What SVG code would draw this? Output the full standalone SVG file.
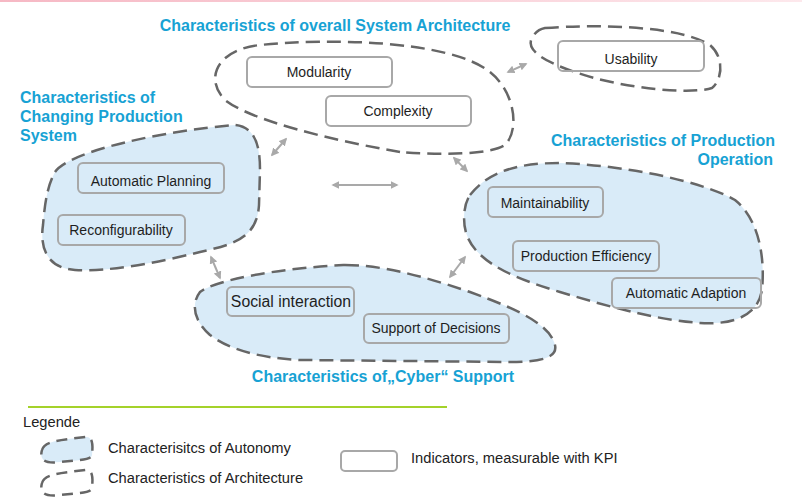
<svg xmlns="http://www.w3.org/2000/svg" width="802" height="502" viewBox="0 0 802 502">
<defs>
<linearGradient id="topg" x1="0" y1="0" x2="1" y2="0">
<stop offset="0" stop-color="#f6b8c4"/>
<stop offset="1" stop-color="#fde8ec"/>
</linearGradient>
<marker id="ah" viewBox="0 0 10 10" refX="8" refY="5" markerWidth="4" markerHeight="4" orient="auto-start-reverse" markerUnits="strokeWidth">
<path d="M0,0 L10,5 L0,10 Z" fill="#a9a9a9"/>
</marker>
<style>
.title{font-family:"Liberation Sans",Arial,sans-serif;font-weight:bold;font-size:16px;fill:#17a2d4}
.lbl{font-family:"Liberation Sans",Arial,sans-serif;font-size:14px;fill:#1e1e1e}
.lbl.big{font-size:15.8px}
.leg{font-family:"Liberation Sans",Arial,sans-serif;font-size:14.7px;fill:#222}
.box{fill:none;stroke:#a8a8a8;stroke-width:2}
.auto{fill:#d9ebf8;stroke:#666;stroke-width:2.5;stroke-dasharray:14 7}
.arch{fill:none;stroke:#666;stroke-width:2.5;stroke-dasharray:14 7}
.conn{stroke:#a9a9a9;stroke-width:2;fill:none;marker-start:url(#ah);marker-end:url(#ah)}
</style>
</defs>
<rect x="0" y="0" width="802" height="502" fill="#ffffff"/>
<rect x="0" y="0" width="802" height="2" fill="url(#topg)"/>

<g id="area-architecture">
<path class="arch" d="M400,152 C330,140 250,120 225,100 C205,80 215,50 260,45 C330,38 450,40 490,72 C515,92 520,130 505,145 C490,155 440,155 400,152 Z"/>
<text class="title" x="335" y="31" text-anchor="middle">Characteristics of overall System Architecture</text>
</g>
<g id="area-usability">
<path class="arch" d="M545,28 C600,24 680,26 710,45 C725,58 722,80 712,88 C690,95 620,88 575,72 C545,62 525,50 532,38 C535,32 540,29 545,28 Z"/>
</g>
<g id="area-changing">
<path class="auto" d="M55,172 C70,150 170,130 235,125 C255,127 260,145 260,170 L259,205 C257,240 230,245 200,252 C160,262 110,272 75,270 C45,268 40,245 43,225 C45,200 48,185 55,172 Z"/>
<text class="title" x="20" y="103">Characteristics of</text>
<text class="title" x="20" y="122">Changing Production</text>
<text class="title" x="20" y="141">System</text>
</g>
<g id="area-operation">
<path class="auto" d="M470,195 C490,170 520,163 560,163 C620,165 700,180 735,200 C760,220 765,260 762,290 C758,315 735,325 700,323 C660,320 620,310 560,292 C520,280 480,265 468,238 C462,225 463,205 470,195 Z"/>
<text class="title" x="775" y="146" text-anchor="end">Characteristics of Production</text>
<text class="title" x="773" y="165" text-anchor="end">Operation</text>
</g>
<g id="area-cyber">
<path class="auto" d="M345,265 C380,265 420,275 470,292 C520,310 550,325 555,345 C558,358 540,362 510,362 L300,360 C260,358 230,350 210,335 C195,322 190,305 200,292 C215,280 280,268 345,265 Z"/>
<text class="title" x="383" y="382" text-anchor="middle">Characteristics of„Cyber“ Support</text>
</g>

<g id="connectors">
<line class="conn" x1="272" y1="155" x2="286" y2="139"/>
<line class="conn" x1="333" y1="185" x2="397" y2="185"/>
<line class="conn" x1="454" y1="158" x2="467" y2="171"/>
<line class="conn" x1="508" y1="72" x2="526" y2="64"/>
<line class="conn" x1="211" y1="257" x2="220" y2="278"/>
<line class="conn" x1="450" y1="277" x2="465" y2="257"/>
</g>

<g id="node-modularity"><rect class="box" x="247" y="57" width="145" height="30" rx="5"/><text class="lbl" x="319" y="77" text-anchor="middle">Modularity</text></g>
<g id="node-complexity"><rect class="box" x="326" y="96" width="145" height="30" rx="5"/><text class="lbl" x="398" y="116" text-anchor="middle">Complexity</text></g>
<g id="node-usability"><rect class="box" x="558" y="41" width="146" height="30" rx="5"/><text class="lbl" x="631" y="64" text-anchor="middle">Usability</text></g>
<g id="node-planning"><rect class="box" x="78" y="163" width="146" height="30" rx="5"/><text class="lbl" x="151" y="186" text-anchor="middle">Automatic Planning</text></g>
<g id="node-reconfig"><rect class="box" x="58" y="215" width="127" height="30" rx="5"/><text class="lbl" x="121" y="235" text-anchor="middle">Reconfigurability</text></g>
<g id="node-maintain"><rect class="box" x="488" y="187" width="115" height="30" rx="5"/><text class="lbl" x="545" y="208" text-anchor="middle">Maintainability</text></g>
<g id="node-efficiency"><rect class="box" x="513" y="241" width="146" height="30" rx="5"/><text class="lbl" x="586" y="261" text-anchor="middle">Production Efficiency</text></g>
<g id="node-adaption"><rect class="box" x="612" y="278" width="149" height="30" rx="5"/><text class="lbl" x="686" y="298" text-anchor="middle">Automatic Adaption</text></g>
<g id="node-social"><rect class="box" x="227" y="287" width="127" height="29" rx="5"/><text class="lbl big" x="291" y="307" text-anchor="middle">Social interaction</text></g>
<g id="node-decisions"><rect class="box" x="364" y="314" width="145" height="29" rx="5"/><text class="lbl" x="436" y="333" text-anchor="middle">Support of Decisions</text></g>

<g id="legend">
<line x1="28" y1="407" x2="447" y2="407" stroke="#a4d22a" stroke-width="2"/>
<text class="leg" x="23" y="427">Legende</text>
<path d="M42,450 C44,441 60,440 86,437 C93,437 93,445 92,455 C91,460 80,460 60,462 C45,464 39,460 42,450 Z" fill="#d9ebf8" stroke="#666" stroke-width="2.5" stroke-dasharray="11 7"/>
<path d="M42,483 C44,474 60,473 86,470 C93,470 93,478 92,488 C91,493 80,493 60,495 C45,497 39,493 42,483 Z" fill="none" stroke="#666" stroke-width="2.5" stroke-dasharray="11 7"/>
<text class="leg" x="108" y="453">Characterisitcs of Autonomy</text>
<text class="leg" x="108" y="483">Characteristics of Architecture</text>
<rect class="box" x="341" y="451" width="56" height="20" rx="4"/>
<text class="leg" x="411" y="463">Indicators, measurable with KPI</text>
</g>
</svg>
